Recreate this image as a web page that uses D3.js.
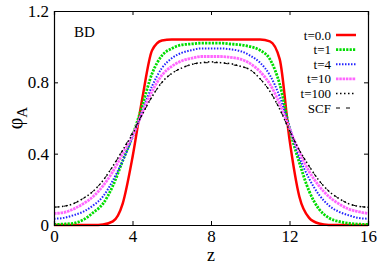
<!DOCTYPE html>
<html>
<head>
<meta charset="utf-8">
<script src="https://cdn.jsdelivr.net/npm/d3@7"></script>
<style>
  body { margin: 0; background: #fff; }
</style>
</head>
<body>
<div id="chart"></div>
<script>
// Size of the page
var width = 382;
var height = 267;

// Data
var zValues = [0, 0.5, 1, 1.5, 2, 2.5, 3, 3.5, 4, 4.5, 5, 5.5, 6, 6.5, 7, 7.5, 8,
               8.5, 9, 9.5, 10, 10.5, 11, 11.5, 12, 12.5, 13, 13.5, 14, 14.5, 15, 15.5, 16];

var phiT0 = [0, 0, 0, 0, 0, 0.003, 0.02, 0.12, 0.38, 0.71, 0.98, 1.035, 1.04, 1.04, 1.04, 1.04, 1.04,
             1.04, 1.04, 1.04, 1.04, 1.04, 1.03, 0.93, 0.48, 0.16, 0.04, 0.008, 0, 0, 0, 0, 0];
var phiT1 = [0.003, 0.005, 0.01, 0.03, 0.07, 0.12, 0.22, 0.36, 0.50, 0.67, 0.85, 0.95, 0.99, 1.01, 1.015, 1.02, 1.02,
             1.02, 1.015, 1.01, 1.0, 0.98, 0.93, 0.79, 0.54, 0.35, 0.19, 0.09, 0.04, 0.02, 0.01, 0.005, 0.003];
var phiT4 = [0.035, 0.04, 0.055, 0.075, 0.11, 0.16, 0.25, 0.36, 0.49, 0.64, 0.78, 0.88, 0.935, 0.965, 0.98, 0.99, 0.99,
             0.99, 0.985, 0.975, 0.95, 0.91, 0.84, 0.72, 0.55, 0.38, 0.26, 0.17, 0.11, 0.075, 0.055, 0.04, 0.035];
var phiT10 = [0.065, 0.07, 0.09, 0.12, 0.16, 0.22, 0.30, 0.40, 0.50, 0.63, 0.75, 0.84, 0.89, 0.92, 0.935, 0.945, 0.945,
              0.945, 0.94, 0.93, 0.905, 0.86, 0.79, 0.68, 0.54, 0.41, 0.30, 0.22, 0.16, 0.12, 0.09, 0.075, 0.065];
var phiT100 = [0.10, 0.105, 0.12, 0.15, 0.19, 0.25, 0.33, 0.42, 0.51, 0.62, 0.72, 0.80, 0.85, 0.88, 0.90, 0.91, 0.915,
               0.91, 0.905, 0.89, 0.87, 0.82, 0.75, 0.65, 0.53, 0.42, 0.33, 0.25, 0.19, 0.15, 0.12, 0.105, 0.10];
var phiSCF = [0.10, 0.105, 0.12, 0.15, 0.19, 0.25, 0.33, 0.42, 0.52, 0.62, 0.72, 0.80, 0.85, 0.88, 0.90, 0.91, 0.91,
              0.91, 0.90, 0.89, 0.87, 0.82, 0.75, 0.65, 0.53, 0.42, 0.33, 0.25, 0.19, 0.15, 0.12, 0.105, 0.10];

var seriesNames = ["t=0.0", "t=1", "t=4", "t=10", "t=100", "SCF"];
var xTicks = [0, 4, 8, 12, 16];
var yTicks = [0, 0.4, 0.8, 1.2];

var serif = "Liberation Serif";

// Line styles for each series
var seriesStyles = [
    { values: phiT0, color: "#ff0000", width: 2.5, dash: null },
    { values: phiT1, color: "#00dd00", width: 2.8, dash: "2.2,1.2" },
    { values: phiT4, color: "#2222ff", width: 2, dash: "1.5,1.5" },
    { values: phiT10, color: "#ff66ff", width: 2.8, dash: "2.5,0.8" },
    { values: phiT100, color: "#000000", width: 1.5, dash: "1.5,2.5" },
    { values: phiSCF, color: "#000000", width: 1, dash: "4,6" }
];

var margin = { left: 54, right: 14, top: 11, bottom: 42 };

function createSVG(width, height) {
    return d3.select("#chart")
        .append("svg")
        .attr("width", width)
        .attr("height", height);
}

function main() {
    var svg = createSVG(width, height);

    var x = d3.scaleLinear().domain([0, 16]).range([margin.left, width - margin.right]);
    var y = d3.scaleLinear().domain([0, 1.2]).range([height - margin.bottom, margin.top]);

    // Curves
    var line = d3.line()
        .x(function(d) { return x(d[0]); })
        .y(function(d) { return y(d[1]); })
        .curve(d3.curveMonotoneX);

    seriesStyles.forEach(function(s) {
        var pts = zValues.map(function(z, i) { return [z, s.values[i]]; });
        svg.append("path")
            .attr("d", line(pts))
            .attr("fill", "none")
            .attr("stroke", s.color)
            .attr("stroke-width", s.width)
            .attr("stroke-dasharray", s.dash);
    });

    // Axes, ticks inward on all sides
    var fmtY = function(d) { return d === 0 ? "0" : d3.format(".1f")(d); };
    var bottom = svg.append("g")
        .attr("transform", "translate(0," + y(0) + ")")
        .call(d3.axisBottom(x).tickValues(xTicks).tickSize(-4).tickPadding(5));
    var top = svg.append("g")
        .attr("transform", "translate(0," + y(1.2) + ")")
        .call(d3.axisTop(x).tickValues(xTicks).tickSize(-4).tickFormat(""));
    var left = svg.append("g")
        .attr("transform", "translate(" + x(0) + ",0)")
        .call(d3.axisLeft(y).tickValues(yTicks).tickSize(-4).tickPadding(5).tickFormat(fmtY));
    var right = svg.append("g")
        .attr("transform", "translate(" + x(16) + ",0)")
        .call(d3.axisRight(y).tickValues(yTicks).tickSize(-4).tickFormat(""));

    [bottom, top, left, right].forEach(function(g) {
        g.attr("font-family", serif).attr("font-size", 17);
        g.select(".domain").attr("stroke", "#000").attr("stroke-width", 1.2);
        g.selectAll(".tick line").attr("stroke", "#000");
        g.selectAll(".tick text").attr("fill", "#000");
    });

    // Axis titles
    svg.append("text")
        .attr("x", (x(0) + x(16)) / 2)
        .attr("y", 261)
        .attr("text-anchor", "middle")
        .attr("font-family", serif)
        .attr("font-size", 18)
        .text("z");

    var yl = svg.append("text")
        .attr("transform", "translate(22," + y(0.6) + ") rotate(-90)")
        .attr("text-anchor", "middle")
        .attr("font-family", serif)
        .attr("font-size", 20);
    yl.append("tspan").text("φ");
    yl.append("tspan").attr("dy", 5).attr("font-size", 15).text("A");

    // Panel label
    svg.append("text")
        .attr("x", 74)
        .attr("y", 37)
        .attr("font-family", serif)
        .attr("font-size", 15)
        .text("BD");

    // Legend
    var legend = svg.append("g").attr("font-family", serif).attr("font-size", 13);
    seriesNames.forEach(function(name, i) {
        var ly = 35 + i * 14.6;
        var s = seriesStyles[i];
        legend.append("text")
            .attr("x", 331)
            .attr("y", ly + 4.5)
            .attr("text-anchor", "end")
            .text(name);
        legend.append("line")
            .attr("x1", 336)
            .attr("x2", 356)
            .attr("y1", ly)
            .attr("y2", ly)
            .attr("stroke", s.color)
            .attr("stroke-width", s.width)
            .attr("stroke-dasharray", s.dash);
    });
}

window.onload = function() {
    main();
};
</script>
</body>
</html>
